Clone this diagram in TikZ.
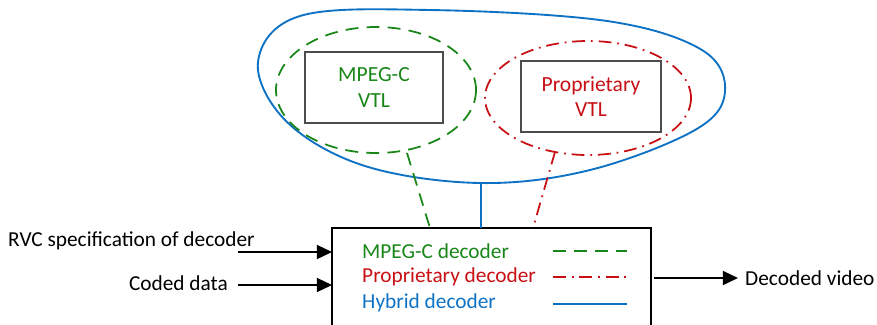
\documentclass[tikz,border=0pt]{standalone}
\usepackage{fontspec}
\setmainfont{Carlito}
\usetikzlibrary{arrows.meta}
\definecolor{vtlgreen}{RGB}{24,134,24}
\definecolor{vtlred}{RGB}{200,16,20}
\definecolor{vtlblue}{RGB}{14,114,196}
\newlength{\pxunit}\setlength{\pxunit}{0.03cm}
\tikzset{
  vtlbox/.style={draw=black!70, line width=1.2pt, minimum width=138\pxunit, minimum height=71\pxunit, align=center, font=\fontsize{18.4}{22}\selectfont},
  lbl/.style={font=\fontsize{18.2}{22}\selectfont, inner sep=0pt},
  greenline/.style={vtlgreen, line width=1.5pt, dash pattern=on 11pt off 7pt},
  redline/.style={vtlred, line width=1.5pt, dash pattern=on 11pt off 5pt on 1.5pt off 5pt},
  blueline/.style={vtlblue, line width=1.6pt},
  arr/.style={-{Triangle[length=13pt,width=12pt]}, line width=1.6pt}
}
\begin{document}
\begin{tikzpicture}[x=0.03cm, y=-0.03cm]
    \useasboundingbox (0,0) rectangle (877,324);
    \clip (0,0) rectangle (877,324);
    % outer hybrid blob
    \draw[blueline] plot[smooth cycle, tension=0.6] coordinates {(258,62) (300,16) (430,10) (607,21) (702,50) (725,92) (695,130) (590,170) (480,183) (365,166) (287,122)};
    \coordinate (blobs) at (481,183);
    % the two VTL groups
    \draw[greenline] (376,90) ellipse [x radius=100, y radius=63];
    \coordinate (greens) at (407,153);
    \draw[redline] (588,98) ellipse [x radius=103, y radius=57];
    \coordinate (reds) at (555,152);
    \node[vtlbox, text=vtlgreen] (mpeg) at (374,87.5) {MPEG-C\\VTL};
    \node[vtlbox, text=vtlred, minimum width=140\pxunit] (prop) at (591,96.5) {Proprietary\\VTL};
    % decoder
    \draw[line width=1.6pt] (332,340) -- (332,228) -- (651,228) -- (651,340);
    \coordinate (dec1) at (430,228);
    \coordinate (dec2) at (481,228);
    \coordinate (dec3) at (533,228);
    \draw[greenline] (greens) -- (dec1);
    \draw[blueline] (blobs) -- (dec2);
    \draw[redline] (reds) -- (dec3);
    \node[lbl, anchor=west, text=vtlgreen] (lg) at (362,251) {MPEG-C decoder};
    \node[lbl, anchor=west, text=vtlred] (lr) at (362,277) {Proprietary decoder};
    \node[lbl, anchor=west, text=vtlblue] (lb) at (362,303) {Hybrid decoder};
    \draw[greenline] (553,251) -- (627,251);
    \draw[redline] (553,277) -- (627,277);
    \draw[blueline] (553,304) -- (627,304);
    % inputs and output
    \node[lbl, anchor=west] (rvc) at (8,241) {RVC specification of decoder};
    \node[lbl, anchor=east] (coded) at (228,283) {Coded data};
    \coordinate (rvcs) at (238,252);
    \coordinate (rvce) at (332,252);
    \coordinate (codeds) at (238,285);
    \coordinate (codede) at (332,285);
    \draw[arr] (rvcs) -- (rvce);
    \draw[arr] (codeds) -- (codede);
    \node[lbl, anchor=west] (out) at (745,278) {Decoded video};
    \coordinate (outs) at (654,278);
    \coordinate (oute) at (738,278);
    \draw[arr] (outs) -- (oute);
  \end{tikzpicture}
\end{document}
